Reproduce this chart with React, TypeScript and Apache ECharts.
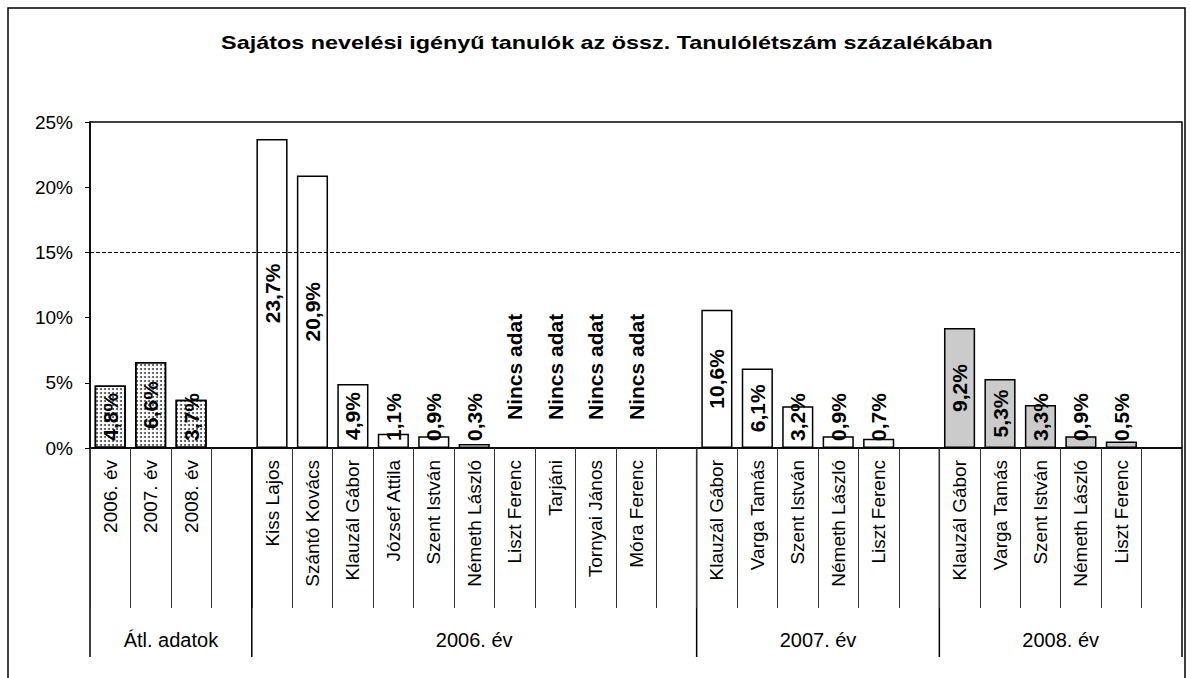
import React, { useEffect, useRef } from "react";
import * as echarts from "echarts";

const titleText = "Sajátos nevelési igényű tanulók az össz. Tanulólétszám százalékában";
const avgCategories = ["2006. év", "2007. év", "2008. év"];
const avgValues: (number | null)[] = [4.8, 6.6, 3.7];
const cat2006 = ["Kiss Lajos", "Szántó Kovács", "Klauzál Gábor", "József Attila", "Szent István", "Németh László", "Liszt Ferenc", "Tarjáni", "Tornyai János", "Móra Ferenc"];
const val2006: (number | null)[] = [23.7, 20.9, 4.9, 1.1, 0.9, 0.3, null, null, null, null];
const cat2007 = ["Klauzál Gábor", "Varga Tamás", "Szent István", "Németh László", "Liszt Ferenc"];
const val2007: (number | null)[] = [10.6, 6.1, 3.2, 0.9, 0.7];
const cat2008 = ["Klauzál Gábor", "Varga Tamás", "Szent István", "Németh László", "Liszt Ferenc"];
const val2008: (number | null)[] = [9.2, 5.3, 3.3, 0.9, 0.5];
const groupLabels = ["Átl. adatok", "2006. év", "2007. év", "2008. év"];
const yMin = 0;
const yMax = 25;
const yInterval = 5;
const thresholdValue = 15;
const noDataText = "Nincs adat";

const FONT = '"Liberation Sans", Arial, sans-serif';

const avgStyle = {
  color: "#ffffff",
  borderColor: "#000",
  borderWidth: 1.5,
  decal: {
    symbol: "circle",
    symbolSize: 1,
    color: "rgba(30,30,30,0.8)",
    backgroundColor: "#ffffff",
    dashArrayX: [2, 2],
    dashArrayY: [2, 2],
    rotation: 0,
  },
};
const whiteStyle = { color: "#ffffff", borderColor: "#000", borderWidth: 1.5 };
const grayStyle = { color: "#cbcbcb", borderColor: "#000", borderWidth: 1.5 };

const groups = [
  { label: groupLabels[0], cats: avgCategories, vals: avgValues, style: avgStyle },
  { label: groupLabels[1], cats: cat2006, vals: val2006, style: whiteStyle },
  { label: groupLabels[2], cats: cat2007, vals: val2007, style: whiteStyle },
  { label: groupLabels[3], cats: cat2008, vals: val2008, style: grayStyle },
];

function fmt(v: number) {
  return v.toFixed(1).replace(".", ",") + "%";
}

export default function App() {
  const ref = useRef<HTMLDivElement>(null);

  useEffect(() => {
    if (!ref.current) return;
    const chart = echarts.init(ref.current, undefined, { renderer: "svg" });

    const categories: string[] = [];
    const data: any[] = [];
    const groupStarts: number[] = [];
    groups.forEach((g) => {
      groupStarts.push(categories.length);
      g.cats.forEach((c, i) => {
        categories.push(c);
        const v = g.vals[i];
        if (v == null) {
          data.push({
            value: 0,
            itemStyle: { color: "transparent", borderWidth: 0 },
            label: {
              show: true,
              formatter: noDataText,
              position: "insideBottom",
              align: "left",
              verticalAlign: "middle",
              distance: 28,
            },
          });
        } else {
          const small = v < 4.5;
          data.push({
            value: v,
            itemStyle: g.style,
            label: small
              ? { position: "insideBottom", align: "left", verticalAlign: "middle", distance: 7 }
              : { position: "inside", align: "center", verticalAlign: "middle" },
          });
        }
      });
      categories.push("");
      data.push("-");
    });
    groupStarts.push(categories.length);

    chart.setOption({
      animation: false,
      backgroundColor: "#ffffff",
      textStyle: { fontFamily: FONT },
      grid: {
        left: 90,
        right: 8,
        top: 122,
        bottom: 230,
        show: true,
        borderColor: "#000",
        borderWidth: 1.5,
        containLabel: false,
      },
      xAxis: {
        type: "category",
        data: categories,
        axisLine: { lineStyle: { color: "#000", width: 1.5 } },
        axisTick: { show: true, interval: 0, length: 160, lineStyle: { color: "#333", width: 1 } },
        axisLabel: {
          interval: 0,
          rotate: 90,
          fontSize: 19,
          color: "#000",
          margin: 12,
          fontFamily: FONT,
        },
        splitLine: { show: false },
      },
      yAxis: {
        type: "value",
        min: yMin,
        max: yMax,
        interval: yInterval,
        axisLine: { show: true, lineStyle: { color: "#000", width: 1.5 } },
        axisTick: { show: true, length: 5, lineStyle: { color: "#000" } },
        axisLabel: { formatter: "{value}%", fontSize: 19, color: "#000", margin: 17, fontFamily: FONT },
        splitLine: { show: false },
      },
      series: [
        {
          type: "bar",
          data,
          barCategoryGap: "23%",
          label: {
            show: true,
            rotate: 90,
            fontSize: 21,
            fontWeight: "bold",
            color: "#000",
            fontFamily: FONT,
            formatter: (p: any) => (typeof p.value === "number" ? fmt(p.value) : ""),
          },
          markLine: {
            silent: true,
            symbol: "none",
            label: { show: false },
            lineStyle: { type: "dashed", color: "#000", width: 1 },
            data: [{ yAxis: thresholdValue }],
          },
        },
      ],
    });

    const c0 = chart.convertToPixel({ xAxisIndex: 0 }, 0) as number;
    const c1 = chart.convertToPixel({ xAxisIndex: 0 }, 1) as number;
    const w = c1 - c0;
    const yBase = chart.convertToPixel({ yAxisIndex: 0 }, 0) as number;
    const bx = (idx: number) => c0 - w / 2 + idx * w;

    const graphics: any[] = [];
    graphics.push({
      type: "text",
      x: 607,
      y: 43,
      scaleX: 1.23,
      style: {
        text: titleText,
        fontSize: 19,
        fontWeight: "bold",
        fontFamily: FONT,
        fill: "#000",
        align: "center",
        verticalAlign: "middle",
      },
    });
    graphics.push({
      type: "polyline",
      shape: { points: [[8, 678], [8, 8], [1185, 8], [1185, 678]] },
      style: { stroke: "#000", lineWidth: 1.5, fill: "none" },
    });
    groupStarts.forEach((s) => {
      graphics.push({
        type: "line",
        shape: { x1: bx(s), y1: yBase, x2: bx(s), y2: 657 },
        style: { stroke: "#000", lineWidth: 1.5 },
      });
    });
    groups.forEach((g, gi) => {
      const xs = bx(groupStarts[gi]);
      const xe = bx(groupStarts[gi + 1]);
      graphics.push({
        type: "text",
        x: (xs + xe) / 2,
        y: 640,
        style: {
          text: g.label,
          fontSize: 20,
          fontFamily: FONT,
          fill: "#000",
          align: "center",
          verticalAlign: "middle",
        },
      });
    });
    chart.setOption({ graphic: graphics });

    return () => chart.dispose();
  }, []);

  return (
    <div
      ref={ref}
      style={{ position: "fixed", left: 0, top: 0, width: 1190, height: 678, background: "#fff" }}
    />
  );
}
